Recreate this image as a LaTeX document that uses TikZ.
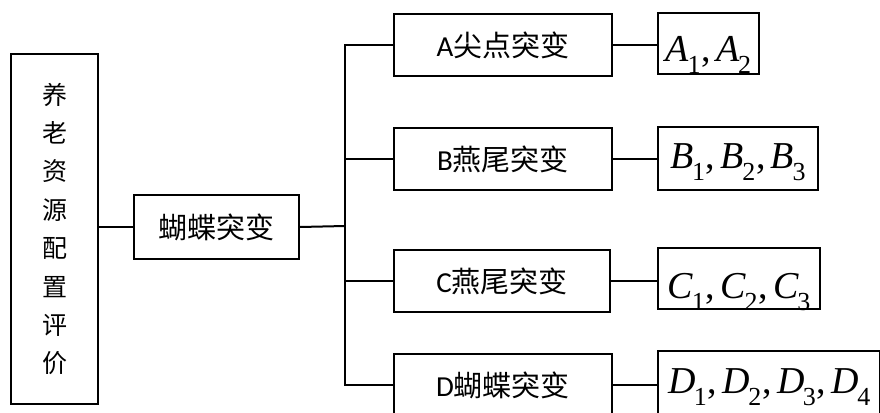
\documentclass[tikz,border=0pt]{standalone}
\usepackage{fontspec}
\setmainfont{Liberation Serif}
\newfontfamily\cjk{Noto Sans CJK SC}
\newfontfamily\lat{Carlito}
\newcommand\mv[2]{\textit{#1}\kern-0.04em\raisebox{-0.32em}{\fontsize{26}{26}\selectfont #2}}
\newcommand\cm{\hspace{0.02em},\hspace{0.14em}}
\tikzset{
  box/.style={draw, line width=2pt, inner sep=0pt, anchor=north west},
  lbl/.style={box, font=\fontsize{29}{29}\selectfont\cjk},
  res/.style={box, font=\fontsize{38}{38}\selectfont, text depth=4pt, inner xsep=5pt},
  conn/.style={line width=2pt}
}
\begin{document}
\begin{tikzpicture}[x=1pt,y=-1pt]
\useasboundingbox (0,0) rectangle (880,412);
\clip (0,0) rectangle (880,412);
\node[box, minimum width=87pt, minimum height=350pt, align=center,
      font=\fontsize{25}{38.4}\selectfont\cjk] (root) at (10,53)
      {养\\老\\资\\源\\配\\置\\评\\价};
\node[lbl, minimum width=165pt, minimum height=64pt] (mid) at (133,194) {蝴蝶突变};
\node[lbl, minimum width=218pt, minimum height=62pt] (a) at (393,13) {{\lat A}尖点突变};
\node[lbl, minimum width=218pt, minimum height=62pt] (b) at (393,127) {{\lat B}燕尾突变};
\node[lbl, minimum width=216pt, minimum height=62pt] (c) at (393,249) {{\lat C}燕尾突变};
\node[lbl, minimum width=218pt, minimum height=62pt] (d) at (393,353) {{\lat D}蝴蝶突变};
\node[res, text height=39pt, minimum width=101pt, minimum height=61pt] (ra) at (657,12) {\mv{A}{1}\cm\mv{A}{2}};
\node[res, text height=23pt, minimum width=160pt, minimum height=63pt] (rb) at (657,126) {\mv{B}{1}\cm\mv{B}{2}\cm\mv{B}{3}};
\node[res, text height=43pt, minimum width=162pt, minimum height=61pt] (rc) at (657,247) {\mv{C}{1}\cm\mv{C}{2}\cm\mv{C}{3}};
\node[res, text height=25pt, inner xsep=10pt, minimum height=63pt] (rd) at (657,350) {\mv{D}{1}\cm\mv{D}{2}\cm\mv{D}{3}\cm\mv{D}{4}};
\coordinate (j) at (345,226);
\draw[conn] (root.east |- mid.west) -- (mid.west);
\draw[conn] (mid.east) -- (j);
\draw[conn] (a.west) -| (j) |- (d.west);
\draw[conn] (j |- b.west) -- (b.west);
\draw[conn] (j |- c.west) -- (c.west);
\draw[conn] (a.east) -- (a.east -| ra.west);
\draw[conn] (b.east) -- (b.east -| rb.west);
\draw[conn] (c.east) -- (c.east -| rc.west);
\draw[conn] (d.east) -- (d.east -| rd.west);
\end{tikzpicture}
\end{document}
